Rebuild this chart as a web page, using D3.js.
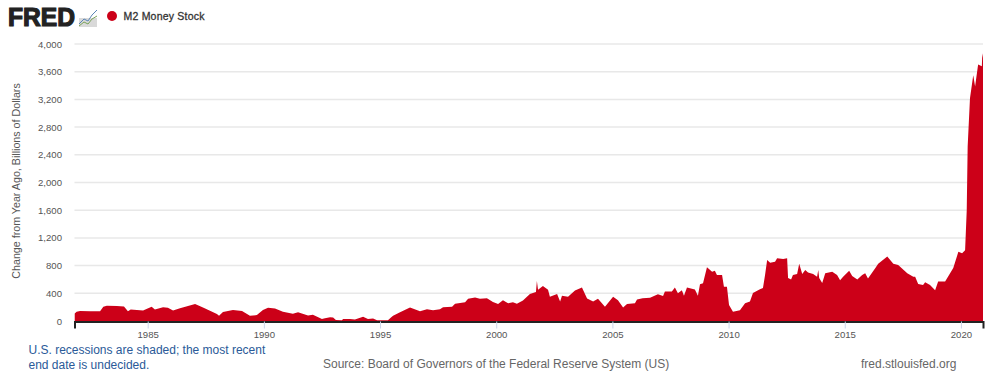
<!DOCTYPE html>
<html>
<head>
<meta charset="utf-8">
<script src="https://cdn.jsdelivr.net/npm/d3@7"></script>
<style>
    html, body { margin: 0; padding: 0; background: #fff; }
    svg { display: block; font-family: "Liberation Sans", Arial, sans-serif; }
    .tick-label { font-size: 9.6px; fill: #555; }
    .note { font-size: 12px; fill: #2a5a98; }
    .credit { font-size: 12px; fill: #666; }
</style>
</head>
<body>
<svg id="chart"></svg>
<script>
// Values
const years = [1981.86,1981.94,1982.09,1982.52,1982.95,1983.09,1983.24,1983.67,1983.98,1984.15,1984.27,1984.80,1985.17,1985.31,1985.66,1985.87,1986.09,1986.39,1987.04,1987.38,1987.98,1988.07,1988.24,1988.67,1989.06,1989.40,1989.70,1989.96,1990.18,1990.48,1990.82,1991.25,1991.47,1991.90,1992.11,1992.50,1992.63,1992.85,1992.98,1993.10,1993.36,1993.41,1993.71,1993.92,1994.27,1994.48,1994.70,1994.87,1995.34,1995.47,1995.56,1995.86,1996.29,1996.72,1997.02,1997.28,1997.58,1997.71,1998.10,1998.23,1998.66,1998.79,1999.09,1999.30,1999.60,1999.86,2000.08,2000.29,2000.51,2000.72,2000.89,2001.15,2001.45,2001.71,2001.75,2001.80,2002.01,2002.23,2002.31,2002.62,2002.75,2002.83,2003.09,2003.39,2003.69,2003.91,2004.17,2004.38,2004.68,2005.03,2005.24,2005.46,2005.63,2005.97,2006.06,2006.30,2006.62,2006.96,2007.18,2007.26,2007.56,2007.69,2007.82,2007.99,2008.08,2008.21,2008.55,2008.68,2008.77,2008.90,2009.07,2009.29,2009.41,2009.50,2009.72,2009.80,2009.93,2010.02,2010.19,2010.49,2010.71,2010.92,2011.05,2011.35,2011.48,2011.57,2011.66,2011.79,2012.00,2012.09,2012.35,2012.52,2012.56,2012.69,2012.77,2012.95,2013.04,2013.17,2013.30,2013.42,2013.64,2013.81,2013.86,2013.90,2014.03,2014.16,2014.46,2014.67,2014.80,2014.93,2015.19,2015.32,2015.54,2015.75,2015.88,2016.00,2016.31,2016.44,2016.83,2017.09,2017.30,2017.69,2017.95,2018.03,2018.16,2018.37,2018.46,2018.67,2018.89,2019.02,2019.32,2019.67,2019.89,2020.05,2020.18,2020.25,2020.29,2020.39,2020.53,2020.61,2020.74,2020.90,2020.92,2020.95]
const changes = [110,135,145,140,140,205,220,215,210,140,165,150,205,165,200,190,150,185,245,195,100,75,130,160,145,75,85,160,190,180,135,105,125,80,90,30,40,55,50,15,10,30,30,20,60,30,35,10,10,50,75,125,195,140,170,155,170,200,205,250,270,320,340,320,330,275,245,300,255,270,250,295,390,420,578,450,505,450,350,390,280,365,350,440,485,325,280,320,205,350,300,195,245,255,310,330,335,385,360,425,425,485,400,445,365,485,455,365,530,545,775,710,725,665,665,495,495,230,135,155,255,280,405,460,475,665,880,840,855,905,895,905,620,600,665,680,825,680,735,700,680,640,735,620,550,690,710,665,590,640,725,650,600,665,690,615,760,825,930,825,810,690,640,640,535,520,560,520,445,570,570,765,1000,980,1020,1600,2520,3215,3550,3385,3705,3680,3865,3800]
const y_ticks = [0,400,800,1200,1600,2000,2400,2800,3200,3600,4000]
const x_ticks = [1985,1990,1995,2000,2005,2010,2015,2020]

const series_name = 'M2 Money Stock'
const y_title = 'Change from Year Ago, Billions of Dollars'
const note_lines = ['U.S. recessions are shaded; the most recent', 'end date is undecided.']
const source_text = 'Source: Board of Governors of the Federal Reserve System (US)'
const site_text = 'fred.stlouisfed.org'

const dataset = years.map((year, i) => ({ year: year, value: changes[i] }))

// Graph Dimensions
const width = 1000
const height = 385
const red = '#cc0018'

// Scale
const x = d3.scaleLinear().domain([1981.85, 2020.95]).range([74.5, 983])
const y = d3.scaleLinear().domain([0, 4000]).range([321, 44])

const svg = d3.select('#chart')
    .attr('width', width)
    .attr('height', height)

// Grid
svg.append('g')
    .selectAll('line')
    .data(y_ticks.filter(d => d > 0))
    .enter()
    .append('line')
    .attr('x1', 74.5)
    .attr('x2', 983)
    .attr('y1', d => y(d))
    .attr('y2', d => y(d))
    .attr('stroke', '#e8e8e8')
    .attr('stroke-width', 1.5)

// Area
const area = d3.area()
    .x(d => x(d.year))
    .y0(y(0))
    .y1(d => y(d.value))

svg.append('path')
    .datum(dataset)
    .attr('d', area)
    .attr('fill', red)

// Y Axis
const y_axis = svg.append('g')
    .attr('transform', 'translate(62,0)')
    .call(d3.axisLeft(y).tickValues(y_ticks).tickSize(0).tickFormat(d3.format(',')))
y_axis.select('.domain').remove()
y_axis.selectAll('text').attr('class', 'tick-label').attr('x', 0)

// X Axis
const x_axis = svg.append('g')
    .attr('transform', 'translate(0,321.5)')
    .call(d3.axisBottom(x).tickValues(x_ticks).tickSize(7).tickFormat(d3.format('d')))
x_axis.select('.domain').attr('stroke', '#222').attr('stroke-width', 2)
x_axis.selectAll('line').attr('stroke', '#ccd6eb')
x_axis.selectAll('text').attr('class', 'tick-label').attr('y', 9.5).attr('dy', '0.71em')

// Y label
svg.append('text')
    .attr('transform', 'translate(20,181) rotate(270)')
    .attr('text-anchor', 'middle')
    .attr('font-size', 10.7)
    .attr('fill', '#555')
    .text(y_title)

// Logo
svg.append('text')
    .attr('x', 8)
    .attr('y', 26)
    .attr('font-size', 25)
    .attr('font-weight', 'bold')
    .attr('stroke', '#222')
    .attr('stroke-width', 1.2)
    .attr('fill', '#222')
    .attr('textLength', 67)
    .attr('lengthAdjust', 'spacingAndGlyphs')
    .text('FRED')

let logo = svg.append('g').attr('transform', 'translate(79,9)')
logo.append('rect').attr('y', 9).attr('width', 18).attr('height', 9).attr('fill', '#d9d9d9')
const logo_line = d3.line()
logo.append('path')
    .attr('d', logo_line([[0,15],[5,10],[9,12],[13,6],[18,1]]))
    .attr('fill', 'none').attr('stroke', '#5b85b5').attr('stroke-width', 1)
logo.append('path')
    .attr('d', logo_line([[0,17],[5,13],[9,15],[13,10],[18,7]]))
    .attr('fill', 'none').attr('stroke', '#7aa35a').attr('stroke-width', 1)

// Legend
svg.append('circle')
    .attr('cx', 112)
    .attr('cy', 16)
    .attr('r', 5)
    .attr('fill', red)

svg.append('text')
    .attr('x', 123.5)
    .attr('y', 20)
    .attr('font-size', 10.5)
    .attr('fill', '#333')
    .attr('stroke', '#333')
    .attr('stroke-width', 0.3)
    .attr('textLength', 81)
    .text(series_name)

// Footer
svg.selectAll('.note')
    .data(note_lines)
    .enter()
    .append('text')
    .attr('class', 'note')
    .attr('x', 28.5)
    .attr('y', (d, i) => 354 + i * 14.5)
    .text(d => d)

svg.append('text')
    .attr('class', 'credit')
    .attr('x', 323)
    .attr('y', 368)
    .text(source_text)

svg.append('text')
    .attr('class', 'credit')
    .attr('x', 861)
    .attr('y', 368)
    .text(site_text)
</script>
</body>
</html>
